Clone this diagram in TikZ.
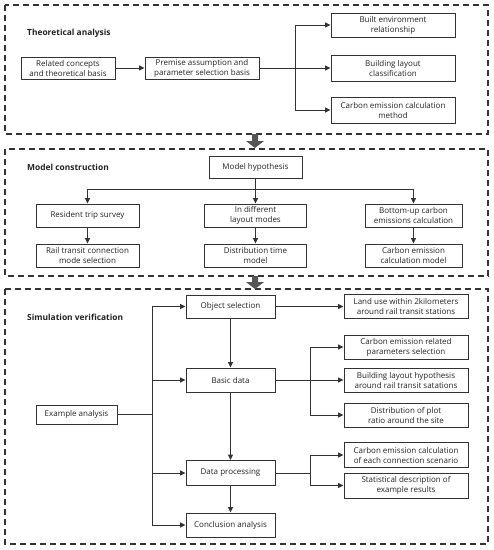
\documentclass[tikz,border=0pt]{standalone}
\usepackage{fontspec}
\setmainfont{Open Sans}
\usetikzlibrary{arrows.meta}
\definecolor{ln}{HTML}{333333}
\definecolor{tx}{HTML}{222222}
\definecolor{blk}{HTML}{555555}
\tikzset{
  bx/.style={draw=ln, line width=1pt, rectangle, inner sep=0pt, align=center, font=\fontsize{8}{10}\selectfont, text=tx},
  con/.style={draw=ln, line width=1pt},
  arr/.style={con, -{Triangle[length=5.5pt,width=5pt]}},
  sect/.style={draw=ln, line width=1.2pt, dash pattern=on 6pt off 4pt},
  ttl/.style={font=\bfseries\fontsize{8.4}{10}\selectfont, text=tx, anchor=west, inner sep=0pt},
  blkarr/.style={fill=blk, draw=none}
}
\begin{document}
\begin{tikzpicture}[x=1pt,y=-1pt]
\useasboundingbox (0,0) rectangle (494,550);
% sections
\draw[sect] (5,5) rectangle (488,134);
\draw[sect] (5,149) rectangle (488,276);
\draw[sect] (5,289) rectangle (488,544);
% block arrows
\fill[blkarr] (252,134) -- (258,134) -- (258,141) -- (264,141) -- (255,148) -- (246,141) -- (252,141) -- cycle;
\fill[blkarr] (252,276) -- (258,276) -- (258,282) -- (264,282) -- (255,289) -- (246,282) -- (252,282) -- cycle;
% titles
\node[ttl] (t1) at (27,33) {Theoretical analysis};
\node[ttl] (t2) at (27,167) {Model construction};
\node[ttl] (t3) at (27,317) {Simulation verification};
% section 1
\node[bx, minimum width=94pt, minimum height=22pt] (rc) at (68,68) {Related concepts\\and theoretical basis};
\node[bx, minimum width=114pt, minimum height=22pt] (pa) at (202,68) {Premise assumption and\\parameter selection basis};
\node[bx, minimum width=124pt, minimum height=24pt] (be) at (393,25) {Built environment\\relationship};
\node[bx, minimum width=124pt, minimum height=26pt] (bl) at (393,68) {Building layout\\classification};
\node[bx, minimum width=124pt, minimum height=26pt] (ce) at (393,110) {Carbon emission calculation\\method};
\coordinate (j1) at (295,68);
\draw[arr] (rc) -- (pa);
\draw[con] (pa.east) -- (j1);
\draw[arr] (j1) |- (be.west);
\draw[arr] (j1) -- (bl.west);
\draw[arr] (j1) |- (ce.west);
% section 2
\node[bx, minimum width=93pt, minimum height=22pt] (mh) at (255.5,167) {Model hypothesis};
\node[bx, minimum width=103pt, minimum height=23pt] (rts) at (87.5,215.5) {Resident trip survey};
\node[bx, minimum width=102pt, minimum height=23pt] (idl) at (255.5,215.5) {In different\\layout modes};
\node[bx, minimum width=97pt, minimum height=23pt] (bu) at (413.5,215.5) {Bottom-up carbon\\emissions calculation};
\node[bx, minimum width=103pt, minimum height=23pt] (rtc) at (87.5,255.5) {Rail transit connection\\mode selection};
\node[bx, minimum width=102pt, minimum height=23pt] (dtm) at (255.5,255.5) {Distribution time\\model};
\node[bx, minimum width=97pt, minimum height=23pt] (cem) at (413.5,255.5) {Carbon emission\\calculation model};
\coordinate (j2) at (255.5,189);
\draw[con] (mh.south) -- (j2);
\draw[arr] (j2) -| (rts.north);
\draw[arr] (j2) -- (idl.north);
\draw[arr] (j2) -| (bu.north);
\draw[arr] (rts) -- (rtc);
\draw[arr] (idl) -- (dtm);
\draw[arr] (bu) -- (cem);
% section 3
\node[bx, minimum width=89pt, minimum height=23pt] (os) at (230.5,306.5) {Object selection};
\node[bx, minimum width=124pt, minimum height=24pt] (lu) at (406,306.5) {Land use within 2kilometers\\around rail transit stations};
\node[bx, minimum width=89pt, minimum height=24pt] (bd) at (230.5,380) {Basic data};
\node[bx, minimum width=124pt, minimum height=24pt] (cer) at (406,347) {Carbon emission related\\parameters selection};
\node[bx, minimum width=124pt, minimum height=24pt] (blh) at (406,380) {Building layout hypothesis\\around rail transit satations};
\node[bx, minimum width=124pt, minimum height=24pt] (dpr) at (406,415) {Distribution of plot\\ratio around the site};
\node[bx, minimum width=81pt, minimum height=19pt] (ea) at (76.5,414.5) {Example analysis};
\node[bx, minimum width=89pt, minimum height=25pt] (dp) at (230.5,473) {Data processing};
\node[bx, minimum width=124pt, minimum height=25pt] (cec) at (406,455) {Carbon emission calculation\\of each connection scenario};
\node[bx, minimum width=124pt, minimum height=25pt] (sd) at (406,485.5) {Statistical description of\\example results};
\node[bx, minimum width=89pt, minimum height=24pt] (ca) at (230.5,525) {Conclusion analysis};
\coordinate (ja) at (152,414.5);
\coordinate (jtop) at (152,306.5);
\coordinate (jbot) at (152,525);
\draw[con] (ea.east) -- (ja);
\draw[con] (jtop) -- (jbot);
\draw[arr] (jtop) -- (os.west);
\draw[arr] (ja |- bd.west) -- (bd.west);
\draw[arr] (ja |- dp.west) -- (dp.west);
\draw[arr] (jbot) -- (ca.west);
\draw[arr] (os) -- (lu);
\draw[arr] (os) -- (bd);
\draw[arr] (bd) -- (dp);
\draw[arr] (dp) -- (ca);
\coordinate (jb) at (310,380);
\draw[con] (bd.east) -- (jb);
\draw[arr] (jb) |- (cer.west);
\draw[arr] (jb) -- (blh.west);
\draw[arr] (jb) |- (dpr.west);
\coordinate (jd) at (310,473);
\draw[con] (dp.east) -- (jd);
\draw[arr] (jd) |- (cec.west);
\draw[arr] (jd) |- (sd.west);
\end{tikzpicture}
\end{document}
